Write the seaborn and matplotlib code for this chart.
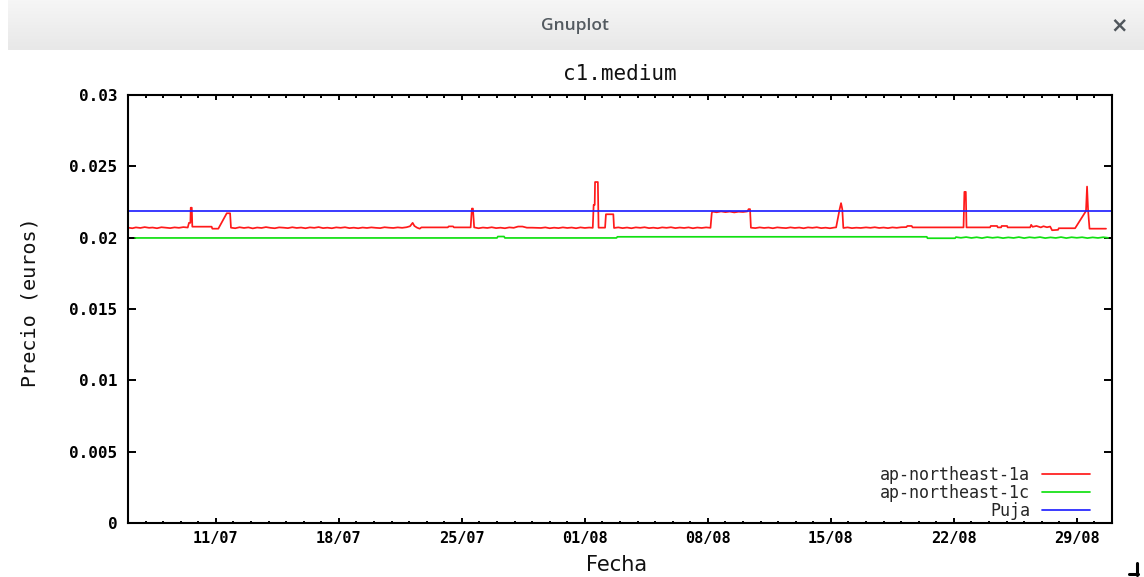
import numpy as np
import pandas as pd
import matplotlib
matplotlib.use("Agg")
import matplotlib.pyplot as plt
import matplotlib.dates as mdates
from matplotlib.lines import Line2D
from matplotlib.colors import LinearSegmentedColormap
import seaborn as sns

# ---------------------------------------------------------------- data
start = pd.Timestamp("2013-07-06")
end_day = 56

series_names = ["ap-northeast-1a", "ap-northeast-1c", "Puja"]
series_colors = ["#ff1a1a", "#11e011", "#2222ff"]

# spot price, zone 1a (days since start, euros)
red_day = [
    0.00, 0.25, 0.45, 0.70, 0.95, 1.20, 1.40, 1.65, 1.90, 2.15, 2.40, 2.65, 2.90, 3.15, 3.40,
    3.47, 3.55, 3.57, 3.63, 3.66, 4.76, 4.80, 5.14, 5.62, 5.81, 5.86,
    6.10, 6.35, 6.60, 6.85, 7.10, 7.35, 7.60, 7.85, 8.10, 8.35, 8.60, 8.85, 9.10, 9.35, 9.60,
    9.85, 10.10, 10.35, 10.60, 10.85, 11.10, 11.35, 11.60, 11.85, 12.10, 12.35, 12.60, 12.85,
    13.10, 13.35, 13.60, 13.85, 14.10, 14.35, 14.60, 14.85, 15.10, 15.35, 15.60, 15.85,
    16.05, 16.20, 16.30, 16.45, 16.60, 16.70, 18.20, 18.25, 18.50, 18.55, 19.50, 19.57, 19.63, 19.70,
    19.95, 20.20, 20.45, 20.70, 20.95, 21.20, 21.45, 21.70, 21.95, 22.20, 22.45, 22.70, 23.00,
    23.50, 23.75, 24.00, 24.25, 24.50, 24.75, 25.00, 25.25, 25.50, 25.75, 26.00, 26.25, 26.45,
    26.50, 26.56, 26.58, 26.74, 26.78, 27.15, 27.20, 27.62, 27.66,
    27.90, 28.15, 28.40, 28.65, 28.90, 29.15, 29.40, 29.65, 29.90, 30.15, 30.40, 30.65, 30.90,
    31.15, 31.40, 31.65, 31.90, 32.15, 32.40, 32.65, 32.90, 33.15,
    33.22, 33.25, 33.50, 33.75, 34.00, 34.25, 34.50, 34.75, 35.00, 35.25, 35.32, 35.40, 35.45,
    35.70, 35.95, 36.20, 36.45, 36.70, 36.95, 37.20, 37.45, 37.70, 37.95, 38.20, 38.45, 38.70,
    38.95, 39.20, 39.45, 39.70, 39.95, 40.20,
    40.30, 40.50, 40.58, 40.65, 40.71,
    40.95, 41.20, 41.45, 41.70, 42.00, 42.25, 42.50, 42.75, 43.00, 43.25, 43.50, 43.75, 44.00,
    44.30, 44.35, 44.60, 44.65, 46.00, 47.55, 47.60, 47.68, 47.72,
    49.06, 49.10, 49.46, 49.50, 49.69, 49.72, 50.03, 50.06, 51.34, 51.40, 51.48, 51.70, 51.95,
    52.10, 52.30, 52.48, 52.59, 52.93, 52.97, 53.90, 54.52, 54.58, 54.64, 54.72, 55.66,
]
red_price = [
    0.02070, 0.02066, 0.02072, 0.02068, 0.02074, 0.02069, 0.02071, 0.02066, 0.02073, 0.02070,
    0.02067, 0.02072, 0.02069, 0.02074, 0.02071,
    0.02104, 0.02104, 0.02210, 0.02210, 0.02077, 0.02077, 0.02063, 0.02063, 0.02171, 0.02171, 0.02070,
    0.02066, 0.02073, 0.02068, 0.02072, 0.02065, 0.02071, 0.02068, 0.02074, 0.02069, 0.02066,
    0.02072, 0.02070, 0.02067, 0.02073, 0.02068,
    0.02071, 0.02066, 0.02072, 0.02069, 0.02074, 0.02067, 0.02070, 0.02066, 0.02072, 0.02069,
    0.02073, 0.02067, 0.02070,
    0.02066, 0.02071, 0.02068, 0.02072, 0.02069, 0.02067, 0.02073, 0.02070, 0.02068, 0.02072,
    0.02069, 0.02073,
    0.02080, 0.02104, 0.02082, 0.02070, 0.02063, 0.02072, 0.02072, 0.02079, 0.02079, 0.02072,
    0.02072, 0.02204, 0.02204, 0.02072,
    0.02066, 0.02071, 0.02068, 0.02073, 0.02067, 0.02070, 0.02066, 0.02072, 0.02069, 0.02078,
    0.02078, 0.02070, 0.02070,
    0.02068, 0.02072, 0.02066, 0.02070, 0.02067, 0.02072, 0.02068, 0.02071, 0.02066, 0.02072,
    0.02068, 0.02071, 0.02069,
    0.02230, 0.02230, 0.02390, 0.02390, 0.02070, 0.02070, 0.02164, 0.02164, 0.02068,
    0.02072, 0.02067, 0.02071, 0.02066, 0.02072, 0.02069, 0.02073, 0.02067, 0.02070, 0.02066,
    0.02072, 0.02069, 0.02073,
    0.02067, 0.02071, 0.02068, 0.02072, 0.02066, 0.02071, 0.02068, 0.02072, 0.02069,
    0.02170, 0.02183, 0.02178, 0.02184, 0.02179, 0.02183, 0.02177, 0.02182, 0.02180, 0.02184,
    0.02200, 0.02200, 0.02070,
    0.02067, 0.02072, 0.02068, 0.02071, 0.02066, 0.02072, 0.02069, 0.02067, 0.02072, 0.02068,
    0.02071, 0.02066, 0.02072,
    0.02069, 0.02073, 0.02067, 0.02070, 0.02066, 0.02071,
    0.02072, 0.02200, 0.02242, 0.02200, 0.02068,
    0.02072, 0.02067, 0.02070, 0.02068, 0.02072, 0.02069, 0.02073, 0.02068, 0.02071, 0.02067,
    0.02072, 0.02069, 0.02073,
    0.02074, 0.02082, 0.02082, 0.02072, 0.02072, 0.02072, 0.02321, 0.02321, 0.02072,
    0.02072, 0.02082, 0.02082, 0.02072, 0.02072, 0.02082, 0.02082, 0.02072, 0.02072, 0.02090,
    0.02076, 0.02082, 0.02072,
    0.02080, 0.02073, 0.02078, 0.02052, 0.02055, 0.02066, 0.02066, 0.02187, 0.02358, 0.02190,
    0.02063, 0.02063,
]

# spot price, zone 1c
green_day = [
    0.40, 21.00, 21.05, 21.40, 21.45, 27.80, 27.85, 45.46, 45.50, 47.07, 47.12,
    47.40, 47.70, 48.00, 48.30, 48.60, 48.90, 49.20, 49.50, 49.80, 50.10, 50.40, 50.70,
    51.00, 51.30, 51.60, 51.90, 52.20, 52.50, 52.80, 53.10, 53.40, 53.70, 54.00, 54.30,
    54.60, 54.90, 55.20, 55.50, 55.78,
]
green_price = [
    0.01998, 0.01998, 0.02008, 0.02008, 0.01998, 0.01998, 0.02006, 0.02006, 0.01996, 0.01996,
    0.02004,
    0.01999, 0.02004, 0.01998, 0.02003, 0.01997, 0.02004, 0.01999, 0.02003, 0.01997, 0.02002,
    0.01998, 0.02004,
    0.01997, 0.02003, 0.01999, 0.02004, 0.01997, 0.02002, 0.01998, 0.02004, 0.01997, 0.02003,
    0.01999, 0.02003,
    0.01997, 0.02002, 0.01998, 0.02003, 0.01999,
]

# bid
bid_day = [0, end_day]
bid_price = [0.0219, 0.0219]

y_ticks = [0, 0.005, 0.01, 0.015, 0.02, 0.025, 0.03]
y_labels = ["0", "0.005", "0.01", "0.015", "0.02", "0.025", "0.03"]
x_tick_days = [5, 12, 19, 26, 33, 40, 47, 54]
x_labels = ["11/07", "18/07", "25/07", "01/08", "08/08", "15/08", "22/08", "29/08"]


def to_time(days):
    return start + pd.to_timedelta(np.asarray(days, dtype=float), unit="D")


frames = []
for name, d, p in zip(series_names,
                      [red_day, green_day, bid_day],
                      [red_price, green_price, bid_price]):
    frames.append(pd.DataFrame({"fecha": to_time(d), "precio": p, "serie": name}))
df = pd.concat(frames, ignore_index=True)

# ---------------------------------------------------------------- style
sns.set_theme(style="ticks")
plt.rcParams["font.family"] = ["DejaVu Sans Mono", "DejaVu Sans"]
plt.rcParams["axes.linewidth"] = 1.5

W, H = 1144, 577
fig = plt.figure(figsize=(W / 100, H / 100), dpi=100)
fig.patch.set_facecolor("white")

# window title bar
bar = fig.add_axes([8 / W, 1 - 50 / H, 1 - 8 / W, 50 / H])
bar.imshow(np.linspace(0, 1, 50)[:, None], aspect="auto",
           cmap=LinearSegmentedColormap.from_list("bar", ["#f6f6f6", "#e8e8e8"]),
           extent=[0, 1, 0, 1])
bar.axis("off")
fig.text(575 / W, 1 - 26 / H, "Gnuplot", family="Open Sans", weight="semibold",
         size=12.5, color="#535a60", ha="center", va="center")
fig.text(1119 / W, 1 - 25 / H, "×", family="DejaVu Sans", weight="bold",
         size=15, color="#50565c", ha="center", va="center")

# plot area
ax = fig.add_axes([128 / W, 1 - 523 / H, 984 / W, 428 / H])
sns.lineplot(data=df, x="fecha", y="precio", hue="serie", hue_order=series_names,
             palette=series_colors, estimator=None, sort=False, linewidth=1.25,
             legend=False, ax=ax)

ax.set_xlim(start, start + pd.Timedelta(days=end_day))
ax.set_ylim(0, 0.03)
ax.set_yticks(y_ticks)
ax.set_yticklabels(y_labels)
ax.set_xticks(to_time(x_tick_days))
ax.set_xticklabels(x_labels)
ax.xaxis.set_minor_locator(mdates.DayLocator())

for s in ax.spines.values():
    s.set_visible(True)
    s.set_color("black")
    s.set_linewidth(1.5)

ax.tick_params(which="both", direction="in", top=True, right=True,
               color="black", width=1.4)
ax.tick_params(axis="y", which="major", length=5.5, pad=7.5)
ax.tick_params(axis="x", which="major", length=3.5, pad=6)
ax.tick_params(axis="x", which="minor", length=1.8)
for lab in ax.get_xticklabels():
    lab.set_fontweight("bold")
    lab.set_fontsize(11)
    lab.set_color("black")
for lab in ax.get_yticklabels():
    lab.set_fontweight("bold")
    lab.set_fontsize(11.5)
    lab.set_color("black")

ax.set_xlabel("Fecha", family="DejaVu Sans", size=15, color="#111111")
ax.xaxis.set_label_coords(0.5 - 3 / 984, -(565 - 523) / 428)
ax.xaxis.label.set_va("center")
ax.set_ylabel("Precio (euros)", size=14.5, color="#111111")
ax.yaxis.set_label_coords((39 - 128) / 984, 0.515)

fig.text(620 / W, 1 - 74 / H, "c1.medium", size=15, ha="center", va="center",
         color="#111111")

handles = [Line2D([], [], color=c, linewidth=1.25) for c in series_colors]
ax.legend(handles, series_names, loc="lower right",
          bbox_to_anchor=((1090 - 128) / 984, 3 / 428), frameon=False,
          markerfirst=False, borderpad=0, borderaxespad=0,
          handlelength=2.9, handletextpad=0.7, labelspacing=0.0,
          prop={"family": "DejaVu Sans Mono", "size": 12})

# window resize grip
fig.add_artist(Line2D([1137 / W, 1137 / W], [1 - 563 / H, 1 - 575 / H],
                      color="black", linewidth=2.2, transform=fig.transFigure))
fig.add_artist(Line2D([1129 / W, 1138 / W], [1 - 574 / H, 1 - 574 / H],
                      color="black", linewidth=2.2, transform=fig.transFigure))

fig.savefig("out.png", dpi=100)
